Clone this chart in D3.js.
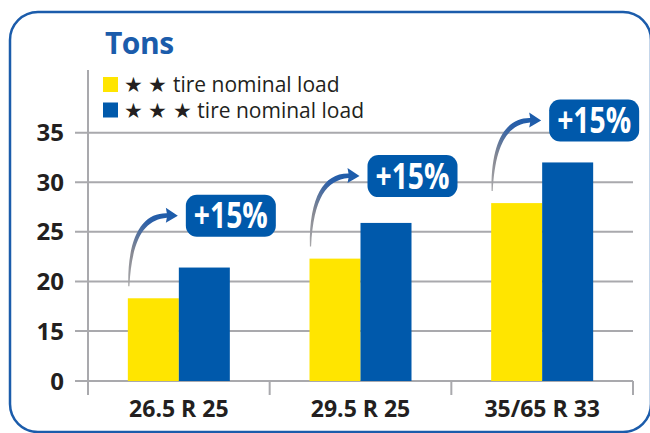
<!DOCTYPE html>
<html>
<head>
<script src="https://d3js.org/d3.v7.min.js"></script>
<style>
  body { margin: 0; padding: 0; background: #fff; }
  text { font-family: "Open Sans", "Noto Sans", sans-serif; }
</style>
</head>
<body>
<script>
// data
var tires = ["26.5 R 25", "29.5 R 25", "35/65 R 33"];
var twoStar = [18.3, 22.3, 27.9];
var threeStar = [21.4, 25.9, 32.0];
var gains = ["+15%", "+15%", "+15%"];
var yTicks = [0, 15, 20, 25, 30, 35];
var legendLabels = ["\u2605 \u2605 tire nominal load", "\u2605 \u2605 \u2605 tire nominal load"];

var width = 650, height = 433;
var yellow = "#ffe500", blue = "#0059ab", grid = "#a9a9ad", ink = "#231f20";

var svg = d3.select("body").append("svg")
    .attr("width", width)
    .attr("height", height);

// frame
svg.append("rect")
    .attr("x", 10).attr("y", 12)
    .attr("width", 641).attr("height", 420)
    .attr("rx", 28)
    .attr("fill", "none")
    .attr("stroke", "#1b5cab")
    .attr("stroke-width", 2.5);

// broken axis: 0 sits one step below 15
var y = d3.scaleLinear().domain([0, 15, 35]).range([381, 331, 132.7]);
var x = d3.scaleBand().domain(tires).range([88, 633]);
var barW = 51;

// grid lines
svg.append("g").selectAll("line")
    .data(yTicks)
    .enter().append("line")
    .attr("x1", 75).attr("x2", 633)
    .attr("y1", d => y(d)).attr("y2", d => y(d))
    .attr("stroke", grid).attr("stroke-width", 2);

// y axis line
svg.append("line")
    .attr("x1", 88).attr("x2", 88)
    .attr("y1", 70).attr("y2", 395)
    .attr("stroke", grid).attr("stroke-width", 2);

// x ticks
svg.append("g").selectAll("line")
    .data(tires.concat(["end"]))
    .enter().append("line")
    .attr("x1", (d, i) => 88 + i * x.bandwidth())
    .attr("x2", (d, i) => 88 + i * x.bandwidth())
    .attr("y1", y(0)).attr("y2", 395)
    .attr("stroke", grid).attr("stroke-width", 2);

// y labels
svg.append("g").selectAll("text")
    .data(yTicks)
    .enter().append("text")
    .attr("x", 64)
    .attr("y", d => y(d))
    .attr("dy", "0.36em")
    .attr("text-anchor", "end")
    .attr("font-size", 24)
    .attr("font-weight", "bold")
    .attr("fill", ink)
    .text(d => d);

// x labels
svg.append("g").selectAll("text")
    .data(tires)
    .enter().append("text")
    .attr("x", d => x(d) + x.bandwidth() / 2)
    .attr("y", 417)
    .attr("text-anchor", "middle")
    .attr("font-size", 23)
    .attr("font-weight", "bold")
    .attr("fill", ink)
    .text(d => d);

// bars
var groups = svg.append("g").selectAll("g")
    .data(tires)
    .enter().append("g")
    .attr("transform", d => "translate(" + (x(d) + x.bandwidth() / 2) + ",0)");

groups.append("rect")
    .attr("x", -barW).attr("width", barW)
    .attr("y", (d, i) => y(twoStar[i]))
    .attr("height", (d, i) => y(0) - y(twoStar[i]))
    .attr("fill", yellow);

groups.append("rect")
    .attr("x", 0).attr("width", barW)
    .attr("y", (d, i) => y(threeStar[i]))
    .attr("height", (d, i) => y(0) - y(threeStar[i]))
    .attr("fill", blue);

// curved arrows + labels
var defs = svg.append("defs");
groups.each(function(d, i) {
    var g = d3.select(this);
    var cy = y(twoStar[i]) - 82.5;   // label centre
    var cx = 52;
    var x0 = -barW + 1, y0 = y(twoStar[i]) - 12;
    var tipX = cx - 53, tipY = cy;

    // gradient in the group's own coordinates
    var gid = "grad" + i;
    var lg = defs.append("linearGradient")
        .attr("id", gid)
        .attr("gradientUnits", "userSpaceOnUse")
        .attr("x1", x0).attr("y1", y0)
        .attr("x2", tipX).attr("y2", tipY);
    lg.append("stop").attr("offset", "0").attr("stop-color", "#a8a8aa");
    lg.append("stop").attr("offset", "0.35").attr("stop-color", "#868892");
    lg.append("stop").attr("offset", "0.75").attr("stop-color", "#2b5fa8");
    lg.append("stop").attr("offset", "1").attr("stop-color", "#1b5cab");

    var hx = tipX - 11;
    var p = d3.path();
    p.moveTo(x0 - 0.6, y0);
    p.bezierCurveTo(x0 - 1.5, tipY + 20, x0 + 14, tipY - 3, hx, tipY - 2.5);
    p.lineTo(hx - 1, tipY - 8);
    p.lineTo(tipX, tipY);
    p.lineTo(hx - 1, tipY + 7);
    p.lineTo(hx, tipY + 2);
    p.bezierCurveTo(x0 + 16, tipY + 4, x0 + 3, tipY + 22, x0 + 0.6, y0);
    p.closePath();
    g.append("path")
        .attr("d", p.toString())
        .attr("fill", "url(#" + gid + ")");

    g.append("rect")
        .attr("x", cx - 45).attr("y", cy - 21)
        .attr("width", 90).attr("height", 42)
        .attr("rx", 11)
        .attr("fill", blue);
    g.append("text")
        .attr("x", cx).attr("y", cy)
        .attr("dy", "0.36em")
        .attr("text-anchor", "middle")
        .attr("font-size", 35)
        .attr("font-weight", "bold")
        .attr("fill", "#fff")
        .attr("textLength", 74)
        .attr("lengthAdjust", "spacingAndGlyphs")
        .text(gains[i]);
});

// title
svg.append("text")
    .attr("x", 105).attr("y", 54)
    .attr("font-size", 30)
    .attr("font-weight", "bold")
    .attr("fill", "#1b5cab")
    .attr("letter-spacing", -0.5)
    .text("Tons");

// legend
var legend = svg.append("g").selectAll("g")
    .data(legendLabels)
    .enter().append("g")
    .attr("transform", (d, i) => "translate(103," + (77 + i * 25.5) + ")");

legend.append("rect")
    .attr("width", 15).attr("height", 15)
    .attr("fill", (d, i) => i == 0 ? yellow : blue);

legend.append("text")
    .attr("x", 21).attr("y", 7.5)
    .attr("dy", "0.36em")
    .attr("font-size", 21)
    .attr("fill", ink)
    .text(d => d);
</script>
</body>
</html>
